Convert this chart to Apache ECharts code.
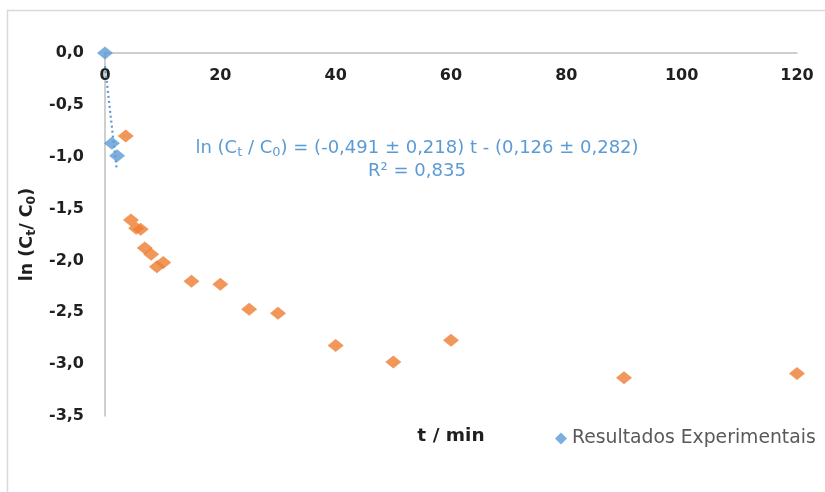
<!DOCTYPE html>
<html>
<head>
<meta charset="utf-8">
<script src="https://cdn.jsdelivr.net/npm/echarts@6/dist/echarts.min.js"></script>
<style>
  html, body { margin: 0; padding: 0; background: #fff; }
  #chart { width: 825px; height: 492px; }
</style>
</head>
<body>
<div id="chart"></div>
<script>
// Kinetic data: ln(Ct/C0) versus time (min)
const tFit = [0, 1.2, 2.1];                    // points used for the linear fit
const lnFit = [0, -0.87, -0.99];
const tOther = [3.6, 4.5, 5.4, 6.2, 6.9, 8.0, 9.0, 10.1, 15, 20, 25, 30, 40, 50, 60, 90, 120];
const lnOther = [-0.80, -1.61, -1.69, -1.70, -1.88, -1.94, -2.06, -2.02, -2.20, -2.23, -2.47, -2.51, -2.82, -2.98, -2.77, -3.13, -3.09];

// Linear fit parameters
const slope = -0.491, slopeErr = 0.218;
const intercept = -0.126, interceptErr = 0.282;
const r2 = 0.835;
const trendRange = [0, 2];

const xTicks = { min: 0, max: 120, interval: 20 };
const yTicks = { min: -3.5, max: 0, interval: 0.5 };

const FONT = '"DejaVu Sans", sans-serif';
const BLUE = '#5B9BD5';
const ORANGE = '#ED7D31';
const INK = '#1f1f1f';
const comma = (v, d) => v.toFixed(d).replace('.', ',');

const fitPoints = tFit.map((t, i) => [t, lnFit[i]]);
const otherPoints = tOther.map((t, i) => [t, lnOther[i]]);
const trendPoints = trendRange.map(t => [t, slope * t + intercept]);

const eqText =
  '{n|ln (C}{s|t}{n| / C}{s|0}{n|) = (' + comma(slope, 3) + ' ± ' + comma(slopeErr, 3) +
  ') t - (' + comma(-intercept, 3) + ' ± ' + comma(interceptErr, 3) + ')}\n' +
  '{n|R² = ' + comma(r2, 3) + '}';

const chart = echarts.init(document.getElementById('chart'), null, { renderer: 'canvas' });
chart.setOption({
  animation: false,
  backgroundColor: '#fff',
  grid: { left: 105, right: 28, top: 53, bottom: 76, containLabel: false },
  xAxis: {
    type: 'value',
    position: 'top',
    min: xTicks.min, max: xTicks.max, interval: xTicks.interval,
    axisLine: { onZero: false, lineStyle: { color: '#BFBFBF', width: 1.5 } },
    axisTick: { show: false },
    splitLine: { show: false },
    axisLabel: {
      inside: true,
      margin: 15, color: INK, fontFamily: FONT, fontWeight: 'bold', fontSize: 16
    }
  },
  yAxis: {
    type: 'value',
    min: yTicks.min, max: yTicks.max, interval: yTicks.interval,
    axisLine: { show: true, onZero: false, lineStyle: { color: '#BFBFBF', width: 1.5 } },
    axisTick: { show: false },
    splitLine: { show: false },
    axisLabel: {
      margin: 21, color: INK, fontFamily: FONT, fontWeight: 'bold', fontSize: 16,
      formatter: v => comma(v, 1)
    },
    name: '{n|ln (C}{s|t}{n|/ C}{s|0}{n|)}',
    nameLocation: 'middle',
    nameGap: 64,
    nameRotate: 90,
    nameTextStyle: {
      rich: {
        n: { fontFamily: FONT, fontWeight: 'bold', fontSize: 17.5, color: INK },
        s: { fontFamily: FONT, fontWeight: 'bold', fontSize: 12.5, color: INK, padding: [8, 0, 0, 0] }
      }
    }
  },
  legend: {
    data: ['Resultados Experimentais'],
    left: 550, top: 424,
    icon: 'diamond',
    itemWidth: 12, itemHeight: 12, itemGap: 5,
    textStyle: { fontFamily: FONT, fontSize: 18.8, color: '#595959' }
  },
  graphic: [
    {
      type: 'rect', silent: true, z: -1,
      shape: { x: 7.5, y: 10.5, width: 900, height: 600 },
      style: { fill: null, stroke: '#D9D9D9', lineWidth: 1.5 }
    },
    {
      type: 'text', x: 451, y: 436, silent: true,
      style: {
        text: 't / min', fontFamily: FONT, fontWeight: 'bold', fontSize: 18.5,
        fill: INK, align: 'center', verticalAlign: 'middle'
      }
    },
    {
      type: 'text', x: 417, y: 160, silent: true,
      style: {
        text: eqText, align: 'center', verticalAlign: 'middle', lineHeight: 23,
        rich: {
          n: { fontFamily: FONT, fontSize: 18, fill: BLUE, color: BLUE, lineHeight: 23 },
          s: { fontFamily: FONT, fontSize: 13, fill: BLUE, color: BLUE, padding: [8, 0, 0, 0] }
        }
      }
    }
  ],
  series: [
    {
      name: 'Linear (Resultados Experimentais)',
      type: 'line',
      data: trendPoints,
      showSymbol: false,
      symbol: 'none',
      lineStyle: { color: BLUE, width: 2.2, type: [2, 3] },
      z: 2
    },
    {
      name: 'Resultados Experimentais',
      type: 'scatter',
      data: fitPoints,
      symbol: 'diamond',
      symbolSize: [16, 13],
      itemStyle: { color: BLUE },
      z: 3
    },
    {
      name: 'Outros',
      type: 'scatter',
      data: otherPoints,
      symbol: 'diamond',
      symbolSize: [16, 13],
      itemStyle: { color: ORANGE },
      z: 3
    }
  ]
});
</script>
</body>
</html>
